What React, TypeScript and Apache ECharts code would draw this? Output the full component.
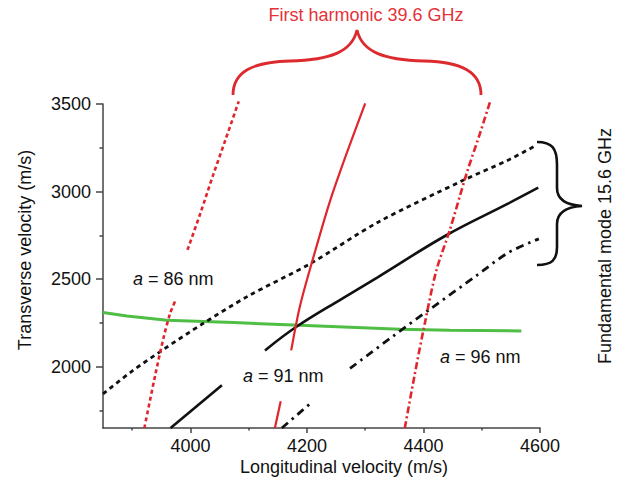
import React, { useEffect, useRef } from "react";
import * as echarts from "echarts";

// ---- data ----
const xTickLabels = [4000, 4200, 4400, 4600];
const xMinorTicks = [3900, 4100, 4300, 4500];
const yTickLabels = [2000, 2500, 3000, 3500];
const yMinorTicks = [1750, 2250, 2750, 3250];

const black86 = [[3850, 1845], [3900, 1975], [3954, 2099], [4020, 2243], [4100, 2405], [4205, 2587], [4322, 2825], [4468, 3064], [4545, 3179], [4594, 3265]];
const black91Lower = [[3966, 1650], [4054, 1894]];
const black91Upper = [[4128, 2093], [4182, 2228], [4262, 2392], [4322, 2512], [4440, 2752], [4545, 2931], [4597, 3022]];
const black96Lower = [[4157, 1650], [4209, 1799]];
const black96Upper = [[4274, 1990], [4348, 2175], [4411, 2328], [4491, 2520], [4545, 2650], [4598, 2730]];

const red86Lower = [[3921, 1650], [3940, 1958], [3954, 2166], [3965, 2302], [3974, 2376]];
const red86Upper = [[3995, 2667], [4017, 2875], [4040, 3104], [4060, 3294], [4083, 3515]];
const red91Lower = [[4145, 1650], [4155, 1803]];
const red91Upper = [[4173, 2093], [4188, 2345], [4211, 2624], [4240, 2950], [4268, 3217], [4300, 3504]];
const red96 = [[4368, 1650], [4385, 1956], [4402, 2243], [4422, 2548], [4445, 2778], [4474, 3103], [4497, 3332], [4514, 3510]];

const green = [[3850, 2309], [3891, 2290], [3960, 2265], [4074, 2252], [4188, 2237], [4360, 2214], [4445, 2208], [4568, 2204]];

const FONT = '"Liberation Sans", Arial, Helvetica, sans-serif';
const RED = "#e0262c";
const INK = "#111";

const redBraceD = "M233,95 C233,72 252,62 290,61 C330,60 352,52 357,30 C362,52 384,60 424,61 C462,62 481,72 481,95";
const blackBraceD = "M537,142 C552,142 557,148 557,165 L557,188 C557,199 566,205 582,206 C566,207 557,213 557,224 L557,247 C557,260 552,265 537,265";

let registered = false;
function registerShapes() {
  if (registered) return;
  echarts.graphic.registerShape("redBrace", echarts.graphic.extendPath(redBraceD, {}) as any);
  echarts.graphic.registerShape("blackBrace", echarts.graphic.extendPath(blackBraceD, {}) as any);
  registered = true;
}

function lineSeries(data: number[][], color: string, width: number, type: any, smooth: boolean | number = false, clip = true) {
  return {
    type: "line",
    data,
    showSymbol: false,
    symbol: "none",
    smooth,
    clip,
    lineStyle: { color, width, type, cap: "butt" },
    silent: true,
    z: 3,
  };
}

function label(text: string, x: number, y: number) {
  return {
    type: "text",
    x,
    y,
    z: 10,
    style: {
      text,
      fill: INK,
      fontSize: 18,
      fontFamily: FONT,
      textAlign: "left",
      textVerticalAlign: "middle",
      align: "left",
      verticalAlign: "middle",
      rich: {
        i: { fontStyle: "italic", fontSize: 18, fontFamily: FONT, fill: INK },
      },
    },
  };
}

function plainText(text: string, x: number, y: number, rotation = 0, fill = INK) {
  return {
    type: "text",
    x,
    y,
    rotation,
    style: {
      text,
      fill,
      fontSize: 18,
      fontFamily: FONT,
      textAlign: "center",
      textVerticalAlign: "middle",
      align: "center",
      verticalAlign: "middle",
    },
  };
}

const plain = (v: number) => String(v);

export default function App() {
  const ref = useRef<HTMLDivElement>(null);
  useEffect(() => {
    registerShapes();
    const chart = echarts.init(ref.current!, null, { renderer: "svg" });
    const axisLineStyle = { color: "#444", width: 1.5 };
    chart.setOption({
      animation: false,
      backgroundColor: "#fff",
      grid: { left: 103, right: 85, top: 104, bottom: 59, containLabel: false },
      xAxis: [
        {
          type: "value",
          min: 3850,
          max: 4600,
          splitLine: { show: false },
          axisLine: { show: true, onZero: false, lineStyle: axisLineStyle },
          axisTick: { show: true, length: 5, customValues: xTickLabels, lineStyle: axisLineStyle },
          axisLabel: { customValues: xTickLabels, formatter: plain, fontSize: 18, fontFamily: FONT, color: INK, margin: 9 },
        },
        {
          type: "value",
          min: 3850,
          max: 4600,
          position: "bottom",
          splitLine: { show: false },
          axisLine: { show: false },
          axisTick: { show: true, length: 2.5, customValues: xMinorTicks, lineStyle: axisLineStyle },
          axisLabel: { show: false },
        },
      ],
      yAxis: [
        {
          type: "value",
          min: 1650,
          max: 3500,
          splitLine: { show: false },
          axisLine: { show: true, onZero: false, lineStyle: axisLineStyle },
          axisTick: { show: true, length: 7, customValues: yTickLabels, lineStyle: axisLineStyle },
          axisLabel: { customValues: yTickLabels, formatter: plain, fontSize: 18, fontFamily: FONT, color: INK, margin: 12 },
        },
        {
          type: "value",
          min: 1650,
          max: 3500,
          position: "left",
          splitLine: { show: false },
          axisLine: { show: false },
          axisTick: { show: true, length: 3.5, customValues: yMinorTicks, lineStyle: axisLineStyle },
          axisLabel: { show: false },
        },
      ],
      series: [
        lineSeries(green, "#4fbe45", 3, "solid"),
        lineSeries(black86, "#111", 2.8, [4.5, 4], 0.3),
        lineSeries(black91Lower, "#111", 2.6, "solid"),
        lineSeries(black91Upper, "#111", 2.6, "solid", 0.4),
        lineSeries(black96Lower, "#111", 2.8, [8, 5, 2.5, 5]),
        lineSeries(black96Upper, "#111", 2.8, [8, 5, 2.5, 5], 0.3),
        lineSeries(red86Lower, RED, 2.6, [4, 3], 0.3, false),
        lineSeries(red86Upper, RED, 2.6, [4, 3], 0.3, false),
        lineSeries(red91Lower, RED, 2.2, "solid", false, false),
        lineSeries(red91Upper, RED, 2.2, "solid", 0.3, false),
        lineSeries(red96, RED, 2.6, [7, 3, 2, 3], 0.3, false),
      ],
      graphic: [
        plainText("Transverse velocity (m/s)", 25, 250, Math.PI / 2),
        plainText("Longitudinal velocity (m/s)", 344, 467),
        plainText("Fundamental mode 15.6 GHz", 605, 246, Math.PI / 2),
        plainText("First harmonic 39.6 GHz", 366, 15, 0, "#e4323a"),
        label("{i|a} = 86 nm", 133, 279),
        label("{i|a} = 91 nm", 243, 376),
        label("{i|a} = 96 nm", 440, 357),
        {
          type: "redBrace",
          x: 0,
          y: 0,
          style: { stroke: "#dd2a2e", lineWidth: 2.8, fill: "none" },
        },
        {
          type: "blackBrace",
          x: 0,
          y: 0,
          style: { stroke: "#111", lineWidth: 2.6, fill: "none" },
        },
      ],
    });
    return () => chart.dispose();
  }, []);
  return (
    <div
      ref={ref}
      style={{ position: "fixed", left: 0, top: 0, width: 625, height: 487, background: "#fff" }}
    />
  );
}
